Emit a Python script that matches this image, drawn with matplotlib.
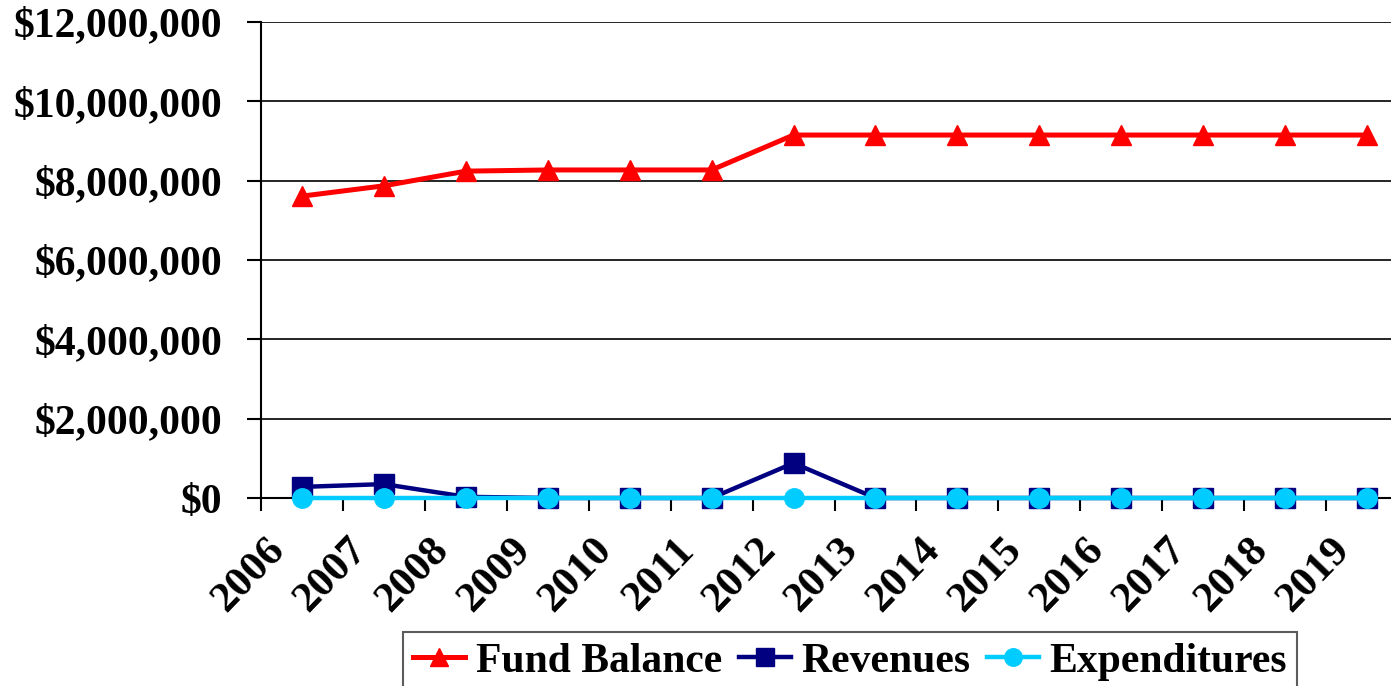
"""
fund balance, revenues and expenditures by year
"""

import matplotlib

matplotlib.use("Agg")
import matplotlib.pyplot as plt
import matplotlib.transforms as mtransforms
from matplotlib.ticker import FuncFormatter

years = ["2006", "2007", "2008", "2009", "2010", "2011", "2012",
         "2013", "2014", "2015", "2016", "2017", "2018", "2019"]
fund_balance = [7610000, 7870000, 8240000, 8270000, 8270000, 8270000, 9150000,
                9150000, 9150000, 9150000, 9150000, 9150000, 9150000, 9150000]
revenues = [280000, 350000, 30000, 0, 0, 0, 880000,
            0, 0, 0, 0, 0, 0, 0]
expenditures = [0, 0, 0, 0, 0, 0, 0,
                0, 0, 0, 0, 0, 0, 0]

plt.rcParams["font.family"] = ["Liberation Serif", "DejaVu Serif"]
plt.rcParams["font.weight"] = "bold"

fig = plt.figure(figsize=(13.91, 6.86), dpi=100)
ax = fig.add_axes([261 / 1391, 1 - 498 / 686, (1408 - 261) / 1391, (498 - 22) / 686])

x = list(range(len(years)))
ax.plot(x, fund_balance, color="#FF0000", lw=3.6, marker="^", markersize=15,
        label="Fund Balance", zorder=3, clip_on=False)
ax.plot(x, revenues, color="#000080", lw=3.2, marker="s", markersize=15,
        label="Revenues", zorder=4, clip_on=False)
ax.plot(x, expenditures, color="#00CCFF", lw=3.2, marker="o", markersize=14,
        label="Expenditures", zorder=5, clip_on=False)

ax.set_xlim(-0.5, len(years) - 0.5)
ax.set_ylim(0, 12000000)
ax.set_yticks(range(0, 12000001, 2000000))
ax.yaxis.set_major_formatter(FuncFormatter(lambda v, p: "${:,.0f}".format(v)))
ax.grid(axis="y", color="black", lw=1.2)
ax.set_axisbelow(True)

# category boundaries carry the tick marks, labels sit at the centres
ax.set_xticks(x)
ax.set_xticks([i - 0.5 for i in range(len(years) + 1)], minor=True)
ax.set_xticklabels(years, rotation=46, ha="right", va="top", rotation_mode="anchor")
ax.tick_params(axis="x", which="major", length=0, pad=24, labelsize=31)
ax.tick_params(axis="x", which="minor", length=9, width=1.5, direction="out")
ax.tick_params(axis="y", length=10, width=1.5, pad=18, labelsize=30)
offset = mtransforms.ScaledTranslation(-0.37, 0, fig.dpi_scale_trans)
for lab in ax.get_xticklabels():
    lab.set_transform(lab.get_transform() + offset)

for side in ["top", "right"]:
    ax.spines[side].set_visible(False)
ax.spines["left"].set_linewidth(1.5)
ax.spines["bottom"].set_linewidth(1.5)

leg = fig.legend(loc="upper left", bbox_to_anchor=(403 / 1391, 1 - 632 / 686),
                 ncol=3, fontsize=30, frameon=True, fancybox=False,
                 handlelength=1.25, handletextpad=0.25, columnspacing=0.4,
                 borderpad=0.25, borderaxespad=0, markerscale=0.9)
leg.get_frame().set_edgecolor("#333333")
leg.get_frame().set_linewidth(1.5)

fig.savefig("out.png", dpi=100)
